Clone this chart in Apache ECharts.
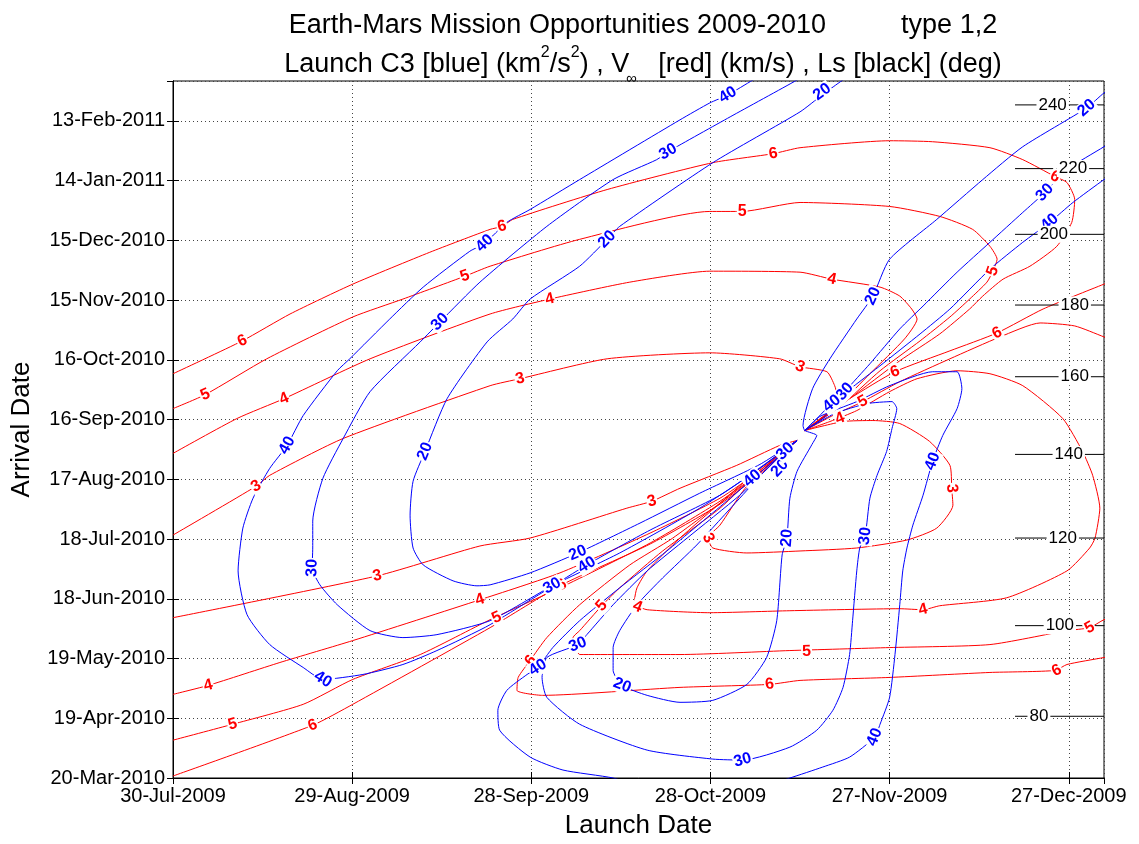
<!DOCTYPE html>
<html><head><meta charset="utf-8">
<script src="https://cdn.jsdelivr.net/npm/echarts@6/dist/echarts.min.js"></script>
<style>html,body{margin:0;padding:0;background:#fff}#c{width:1139px;height:844px}</style>
</head><body><div id="c"></div>
<script>
// x = days since 30-Jul-2009 (launch), y = days since 20-Mar-2010 (arrival)
const launchTickLabels = ['30-Jul-2009','29-Aug-2009','28-Sep-2009','28-Oct-2009','27-Nov-2009','27-Dec-2009'];
const arrivalTickLabels = ['20-Mar-2010','19-Apr-2010','19-May-2010','18-Jun-2010','18-Jul-2010','17-Aug-2010','16-Sep-2010','16-Oct-2010','15-Nov-2010','15-Dec-2010','14-Jan-2011','13-Feb-2011'];
const launchMax = 155.9, arrivalMax = 350, tickStep = 30;

// ---- V-infinity contours (km/s), red ----
const vinf3_upperArc = [[0,122],[13.9,146.5],[16.2,152],[28.5,170.5],[53.1,197],[58.1,200.5],[72.7,210.5],[89.9,213.5],[101.6,210.5],[105,206.5],[109.5,204],[110.8,197],[111.2,192],[110.5,185.5],[107.5,178],[105.8,174.5]];
const vinf3_upperArc_lbl = [[13.9,146.5],[58.1,200.5],[105,206.5]];
const vinf3_upperLow = [[0,80.5],[34.2,101.5],[51.4,116.5],[59.8,120.5],[76,135.5],[80.2,139],[84.9,145.5],[94.4,157],[101.6,167],[104.5,169.5]];
const vinf3_upperLow_lbl = [[34.2,101.5],[80.2,139]];
const vinf4_upperArc = [[0,163],[10.7,180.5],[18.6,190.5],[33,210.5],[53.1,233],[63.1,240.5],[76.5,249],[89.9,254.5],[105,254],[110.3,250.5],[118.4,246.5],[121.7,242],[123.7,235.5],[124.6,230.5],[122.5,220.5],[116.7,203],[111.7,188],[105.8,174.5]];
const vinf4_upperArc_lbl = [[18.6,190.5],[63.1,240.5],[110.3,250.5]];
const vinf4_upperLow = [[0,42],[5.9,46.5],[17.9,58],[30.1,69],[51.4,89.5],[64.8,103],[79.9,123],[91.6,140.5],[98.3,154.5],[104.5,169.5]];
const vinf4_upperLow_lbl = [[5.9,46.5],[51.4,89.5]];
const vinf5_upperArc = [[0,185.5],[5.4,192.5],[15.7,210.5],[30.1,231.5],[38.5,240.5],[48.9,252],[53.1,257],[68.1,270.5],[89.9,284.5],[95.3,284.5],[105,289],[120,287],[128.4,282],[133.9,275.5],[136.8,267],[138,260.5],[137.3,254.5],[136.3,249],[133.4,240.5],[130.1,231.5],[125.1,219.5],[118.4,204.5],[111.7,186.5],[105.8,174.5]];
const vinf5_upperArc_lbl = [[5.4,192.5],[48.9,252],[95.3,284.5],[137.3,254.5]];
const vinf5_upperLow = [[0,19],[10,27],[21.8,37],[30.1,49.5],[41.4,62],[53.1,79.5],[64.8,95.5],[79.9,118],[91.6,139],[99.1,155.5],[104.5,169.5]];
const vinf5_upperLow_lbl = [[10,27],[54.2,80.5]];
const vinf6_upperArc = [[0,203],[11.6,219.5],[19.6,233],[30.1,248],[43,264],[53.1,275.5],[55.1,277],[56.9,280.5],[72.7,295.5],[90.4,309],[100.5,313.5],[105,316.5],[120,320],[127.2,319.5],[136.8,316.5],[142.3,310.5],[147.7,302],[149.7,299],[151,290.5],[150.5,279],[148,267],[143.5,257],[139,250.5],[135.6,242],[133.4,235.5],[128.4,223],[121.7,209.5],[113.3,190.5],[105.8,174.5]];
const vinf6_upperArc_lbl = [[11.6,219.5],[55.1,277],[100.5,313.5],[147.7,302]];
const vinf6_upperLow = [[0,1],[23.4,26.5],[30.1,37],[53.1,75.5],[65.1,97],[79.9,117.5],[91.6,137.5],[99.9,156.5],[104.5,169.5]];
const vinf6_upperLow_lbl = [[23.4,26.5],[65.1,97]];
const vinf3_lower = [[105.8,174.5],[112.2,179],[117.2,179.5],[121.7,178],[126.7,169],[130.1,157],[130.4,145.5],[130.6,137],[127.9,125.5],[122.9,119.5],[114.5,115.5],[105,114],[96.1,113],[90.4,115.5],[89.6,120.5],[91.6,127],[95.8,145.5],[100.8,160.5],[104.5,169.5]];
const vinf3_lower_lbl = [[130.4,145.5],[89.6,120.5]];
const vinf4_lower = [[105.8,174.5],[110,179],[114.5,184.5],[120,194],[124.6,200.5],[131.3,204.5],[136.8,203],[142.3,197],[149,180.5],[152.3,164],[154,152],[155.2,135.5],[154.4,120.5],[153.5,115.5],[149.7,104],[139.6,90.5],[128.4,86.5],[125.6,84.5],[121.7,85],[103.3,84],[89.9,83],[79.4,84.5],[77.7,86.5],[77.3,89.5],[77.7,95.5],[79.4,104],[84.9,120.5],[91.6,138],[98.3,155.5],[104.5,169.5]];
const vinf4_lower_lbl = [[111.7,180.5],[125.6,84.5],[77.8,86]];
const vinf5_lowerTop = [[157.7,219.5],[155.9,221.5],[151,227],[145.2,228.5],[138.5,221.5],[130.1,210.5],[121.7,199],[115.5,189],[110.8,182.5],[105.8,174.5]];
const vinf5_lowerTop_lbl = [[115.5,189]];
const vinf5_lowerBot = [[157.7,80.5],[155.9,79.5],[153.5,75.5],[149.7,74],[136.8,67],[120,65.5],[103.3,64],[84.9,62],[68.1,62],[67.6,64],[67,70.5],[68.1,74],[71.8,86.5],[74.8,95.5],[82,114],[91.6,135.5],[98.3,154.5],[104.5,169.5]];
const vinf5_lowerBot_lbl = [[153.5,75.5],[106.1,63.5],[71.8,86.5]];
const vinf6_lowerTop = [[157.7,250],[155.9,248],[145.7,235.5],[138,223.5],[130.1,214.5],[120.9,204],[113.3,190.5],[109.7,183.5],[105.8,174.5]];
const vinf6_lowerTop_lbl = [[138,223.5],[120.9,204]];
const vinf6_lowerBot = [[157.7,61.5],[155.9,60.5],[149.7,57],[147.7,54],[136.8,53],[120,50.5],[105,49],[99.9,47],[84.9,45.5],[61.9,41.5],[57.6,44],[57.8,50.5],[59.8,59],[62.6,70.5],[68.1,87],[76.5,107],[83.7,120.5],[94.9,145.5],[100.8,159.5],[104.5,169.5]];
const vinf6_lowerBot_lbl = [[148,54],[99.9,47],[59.9,59]];

// ---- Launch C3 contours (km^2/s^2), blue ----
const c3_20_upper = [[113.3,353],[108.7,343],[105,334.5],[90.4,309],[74.8,277],[72.7,270.5],[68.1,257],[59.8,240.5],[56.9,230.5],[52.6,219],[45.9,190.5],[42.2,164],[40.2,149],[39.7,132],[40.2,115.5],[41.9,107],[46.9,99],[50.9,96.5],[53.1,97],[59.8,103],[67.8,113],[78.2,128],[88.2,143],[98.3,157.5],[104.5,169.5]];
const c3_20_upper_lbl = [[108.7,344.5],[72.7,270.5],[42.2,164],[67.8,113]];
const c3_30_upper = [[106.6,354.5],[104.5,350.5],[93.3,332],[82.9,314.5],[81,310.5],[73.7,300.5],[62.6,277],[51.4,249],[44.7,229],[41.4,219],[33,194],[28.5,170.5],[25.1,150.5],[23.4,129],[23.4,115.5],[23.3,105.5],[24.6,97],[27.5,87],[33,74],[38.5,70.5],[44.2,72],[53.1,79],[63.5,96.5],[74.8,113],[88.2,135.5],[98.3,155.5],[104.5,169.5]];
const c3_30_upper_lbl = [[82.9,314.5],[44.7,229],[23.3,105.5],[63.5,96.5]];
const c3_40_upper = [[99.9,355.5],[97.1,350.5],[92.9,343],[89.9,339],[84.9,330.5],[68.1,300.5],[59.8,285.5],[55.9,279],[52.2,268.5],[49.7,264.5],[41.9,246.5],[36.3,230.5],[29.6,210.5],[27.5,204.5],[21.8,182],[19.1,167],[16.2,155.5],[13.4,140.5],[11.7,125.5],[10.9,104],[12.4,82],[16.2,67],[21.8,55.5],[25.1,49.5],[31.8,52],[38.5,57],[44.2,64],[53.1,77],[69.3,107],[79.9,124.5],[91.6,142],[98.6,156.5],[104.5,169.5]];
const c3_40_upper_lbl = [[92.9,343],[52.2,268.5],[19.1,167],[25.1,49.5],[69.3,107]];
const c3_20_right = [[157.7,347],[155.9,344],[153,336.5],[142.3,317],[135.6,300.5],[127.9,280.5],[120,260.5],[117.2,242],[114.5,230.5],[110,210.5],[107.1,195.5],[105.5,177],[105.8,174.5],[107.8,172],[107,167.5],[104.5,154],[103.3,140.5],[102.8,120.5],[102,112],[101.1,79],[99.4,60.5],[96.1,47],[90.4,39],[84.9,38],[79.4,41.5],[75.2,46.5],[73.7,54],[73.7,65.5],[74.8,74],[77.7,87],[82,100.5],[87.7,117],[94.9,140.5],[100.8,159.5],[104.5,169.5]];
const c3_20_right_lbl = [[153,336.5],[117.2,242],[102.8,120.5],[75.2,46.5],[101.6,155.5]];
const c3_30_right = [[157.7,320.5],[155.9,317],[149.7,305.5],[146,294],[142.3,284],[136.8,269],[131.3,254],[125.6,237],[121.7,225.5],[116.7,208],[112.5,194],[109.2,181.5],[105.8,174.5]];
const c3_30_right_lbl = [[146,294],[112.5,194]];
const c3_40_right = [[157.7,304],[155.9,300.5],[150.7,289],[146.8,279],[142.3,269],[136.8,255.5],[130.1,235.5],[125.1,223],[118.4,207],[110.3,188],[107.5,179.5],[105.8,174.5]];
const c3_40_right_lbl = [[146.8,279],[110.3,188]];
const c3_30_lower = [[105.8,174.5],[110.8,183],[116.2,188],[120.4,189],[121.2,185.5],[120.4,175.5],[119.5,164],[117.9,152],[116.7,140.5],[115.9,121.5],[115,115.5],[114.5,104],[113.8,79],[113.3,62],[112.2,45.5],[110.5,34],[107.8,24],[103.3,15.5],[95.4,9],[90.4,9.5],[79.4,14],[68.1,27],[62.6,40.5],[61.8,50.5],[62.6,60.5],[67.8,67],[69.3,72],[73.7,87],[79.4,104],[86.1,120.5],[94.9,142],[100.8,159],[104.5,169.5]];
const c3_30_lower_lbl = [[115.9,121.5],[95.4,9],[67.8,67],[102.5,164]];
const c3_40_lower = [[105.8,174.5],[108.3,181.5],[114.5,189],[120,197],[127.2,204],[131.3,204],[132.1,195.5],[131.3,185.5],[128.9,172],[127.2,159],[125.6,142],[123.9,127],[122.9,115.5],[122.2,104],[121.7,87],[120.9,62],[120,40.5],[118.4,27],[117.5,20.5],[113.3,10.5],[108.8,5.5],[103.3,0],[98.3,-4.5],[79.9,-5.5],[73.7,0],[65.3,4],[59.8,10.5],[54.7,24],[54.4,34],[55.9,44],[59.3,52],[61.1,55.5],[63.6,65.5],[68.1,79],[74.8,95.5],[82.7,114],[93.3,140.5],[99.9,157.5],[104.5,169.5]];
const c3_40_lower_lbl = [[127.2,159],[117.5,20.5],[61.1,55.5],[97,150.5]];

// ---- Ls contours (deg), black ----
const lsLevels = [80,100,120,140,160,180,200,220,240];
const lsArrival = [31,76.5,120.5,162.5,201.5,237.5,273,306,338];
const lsLabelLaunch = [145,148.5,149,150,151,151,147.5,150.7,147.3];
const lsFrom = 141, lsTo = 155.9;

const RED = '#ff0000', BLUE = '#0000ff';
const contours = [
  {lvl:3, c:RED, d:vinf3_upperArc, l:vinf3_upperArc_lbl},
  {lvl:3, c:RED, d:vinf3_upperLow, l:vinf3_upperLow_lbl},
  {lvl:4, c:RED, d:vinf4_upperArc, l:vinf4_upperArc_lbl},
  {lvl:4, c:RED, d:vinf4_upperLow, l:vinf4_upperLow_lbl},
  {lvl:5, c:RED, d:vinf5_upperArc, l:vinf5_upperArc_lbl},
  {lvl:5, c:RED, d:vinf5_upperLow, l:vinf5_upperLow_lbl},
  {lvl:6, c:RED, d:vinf6_upperArc, l:vinf6_upperArc_lbl},
  {lvl:6, c:RED, d:vinf6_upperLow, l:vinf6_upperLow_lbl},
  {lvl:3, c:RED, d:vinf3_lower, l:vinf3_lower_lbl},
  {lvl:4, c:RED, d:vinf4_lower, l:vinf4_lower_lbl},
  {lvl:5, c:RED, d:vinf5_lowerTop, l:vinf5_lowerTop_lbl},
  {lvl:5, c:RED, d:vinf5_lowerBot, l:vinf5_lowerBot_lbl},
  {lvl:6, c:RED, d:vinf6_lowerTop, l:vinf6_lowerTop_lbl},
  {lvl:6, c:RED, d:vinf6_lowerBot, l:vinf6_lowerBot_lbl},
  {lvl:20, c:BLUE, d:c3_20_upper, l:c3_20_upper_lbl},
  {lvl:30, c:BLUE, d:c3_30_upper, l:c3_30_upper_lbl},
  {lvl:40, c:BLUE, d:c3_40_upper, l:c3_40_upper_lbl},
  {lvl:20, c:BLUE, d:c3_20_right, l:c3_20_right_lbl},
  {lvl:30, c:BLUE, d:c3_30_right, l:c3_30_right_lbl},
  {lvl:40, c:BLUE, d:c3_40_right, l:c3_40_right_lbl},
  {lvl:30, c:BLUE, d:c3_30_lower, l:c3_30_lower_lbl},
  {lvl:40, c:BLUE, d:c3_40_lower, l:c3_40_lower_lbl}
];

const FONT = "'Liberation Sans', Arial, Helvetica, sans-serif";
const chart = echarts.init(document.getElementById('c'));

function buildOption(rot) {
  const series = [];
  contours.forEach(function (ct) {
    series.push({type:'line', data:ct.d, showSymbol:false, smooth:0.2, clip:true, silent:true,
      lineStyle:{color:ct.c, width:1}, z:2});
  });
  lsLevels.forEach(function (lv, i) {
    series.push({type:'line', data:[[lsFrom, lsArrival[i]],[lsTo, lsArrival[i]]], showSymbol:false, silent:true,
      lineStyle:{color:'#000', width:1}, z:2});
  });
  contours.forEach(function (ct, ci) {
    series.push({type:'scatter', symbol:'rect', symbolSize:1, silent:true, z:5,
      itemStyle:{color:'rgba(0,0,0,0)', opacity:1},
      data: ct.l.map(function (p, k) {
        return {value:p, label:{rotate: rot ? rot[ci][k] : 0}};
      }),
      label:{show:true, position:'inside', formatter:String(ct.lvl), color:ct.c, fontSize:16, fontWeight:'bold',
        fontFamily:FONT, backgroundColor:'#fff', padding:[0,1], opacity:1}
    });
  });
  series.push({type:'scatter', symbol:'rect', symbolSize:1, silent:true, z:5,
    itemStyle:{color:'rgba(0,0,0,0)', opacity:1},
    data: lsLevels.map(function (lv, i) { return {value:[lsLabelLaunch[i], lsArrival[i]], name:String(lv)}; }),
    label:{show:true, position:'inside', formatter:'{b}', color:'#000', fontSize:17, fontFamily:FONT,
      backgroundColor:'#fff', padding:[0,2], opacity:1}
  });

  const axisCommon = {type:'value', min:0, interval:tickStep,
    axisLine:{show:true, lineStyle:{color:'#000', width:1}},
    axisTick:{show:true, inside:true, length:6, lineStyle:{color:'#000'}}};
  return {
    animation:false,
    backgroundColor:'#fff',
    title:[
      {text:'Earth-Mars Mission Opportunities 2009-2010          type 1,2', left:638, top:7, textAlign:'center',
        textStyle:{fontFamily:FONT, fontSize:27, fontWeight:'normal', color:'#000'}},
      {text:'{n|Launch C3 [blue] (km}{sup|2}{n|/s}{sup|2}{n|) , V}{gap|}{n|  [red] (km/s) , Ls [black] (deg)}',
        left:638, top:40, textAlign:'center',
        textStyle:{fontFamily:FONT, fontSize:27, fontWeight:'normal', color:'#000',
          rich:{
            n:{fontFamily:FONT, fontSize:27, color:'#000', lineHeight:32, verticalAlign:'top', padding:[6,0,0,0]},
            sup:{fontFamily:FONT, fontSize:16, color:'#000', lineHeight:14, verticalAlign:'top'},
            gap:{width:14, lineHeight:14}
          }}}
    ],
    graphic:[
      {type:'text', left:626, top:71, silent:true, z:10,
        style:{text:'\u221e', fontFamily:FONT, fontSize:15, fill:'#000'}}
    ],
    grid:{left:173, right:35, top:81, bottom:63, show:true, borderColor:'#000', borderWidth:1, backgroundColor:'#fff'},
    xAxis:[
      Object.assign({}, axisCommon, {max:launchMax, position:'bottom',
        name:'Launch Date', nameLocation:'middle', nameGap:35,
        nameTextStyle:{fontFamily:FONT, fontSize:26, color:'#000'},
        axisLabel:{show:true, fontFamily:FONT, fontSize:20, color:'#000', margin:8, showMaxLabel:false,
          formatter:function (v) { var i = Math.round(v / tickStep); return (Math.abs(v - i*tickStep) < 1e-6 && launchTickLabels[i]) ? launchTickLabels[i] : ''; }},
        splitLine:{show:true, lineStyle:{color:'#444', width:1, type:[1,3]}}}),
      Object.assign({}, axisCommon, {max:launchMax, position:'top', axisLabel:{show:false}, splitLine:{show:false}})
    ],
    yAxis:[
      Object.assign({}, axisCommon, {max:arrivalMax, position:'left',
        name:'Arrival Date', nameLocation:'middle', nameGap:138, nameRotate:90,
        nameTextStyle:{fontFamily:FONT, fontSize:26, color:'#000'},
        axisLabel:{show:true, fontFamily:FONT, fontSize:20, color:'#000', margin:8, showMaxLabel:false,
          formatter:function (v) { var i = Math.round(v / tickStep); return (Math.abs(v - i*tickStep) < 1e-6 && arrivalTickLabels[i]) ? arrivalTickLabels[i] : ''; }},
        splitLine:{show:true, lineStyle:{color:'#444', width:1, type:[1,3]}}}),
      Object.assign({}, axisCommon, {max:arrivalMax, position:'right', axisLabel:{show:false}, splitLine:{show:false}})
    ],
    series: series
  };
}

chart.setOption(buildOption(null));

function angleAt(points, lp) {
  var P = points.map(function (p) { return chart.convertToPixel({seriesIndex:0}, p); });
  var L = chart.convertToPixel({seriesIndex:0}, lp);
  var best = Infinity, ang = 0;
  for (var i = 0; i < P.length - 1; i++) {
    var a = P[i], b = P[i+1];
    var dx = b[0]-a[0], dy = b[1]-a[1];
    var len2 = dx*dx + dy*dy || 1;
    var t = ((L[0]-a[0])*dx + (L[1]-a[1])*dy) / len2;
    t = Math.max(0, Math.min(1, t));
    var qx = a[0]+t*dx, qy = a[1]+t*dy;
    var d = (L[0]-qx)*(L[0]-qx) + (L[1]-qy)*(L[1]-qy);
    if (d < best) { best = d; ang = Math.atan2(-dy, dx) * 180 / Math.PI; }
  }
  if (ang > 90) ang -= 180;
  if (ang < -90) ang += 180;
  return ang;
}
var rot = contours.map(function (ct) { return ct.l.map(function (p) { return angleAt(ct.d, p); }); });
chart.setOption(buildOption(rot));
</script>
</body></html>
